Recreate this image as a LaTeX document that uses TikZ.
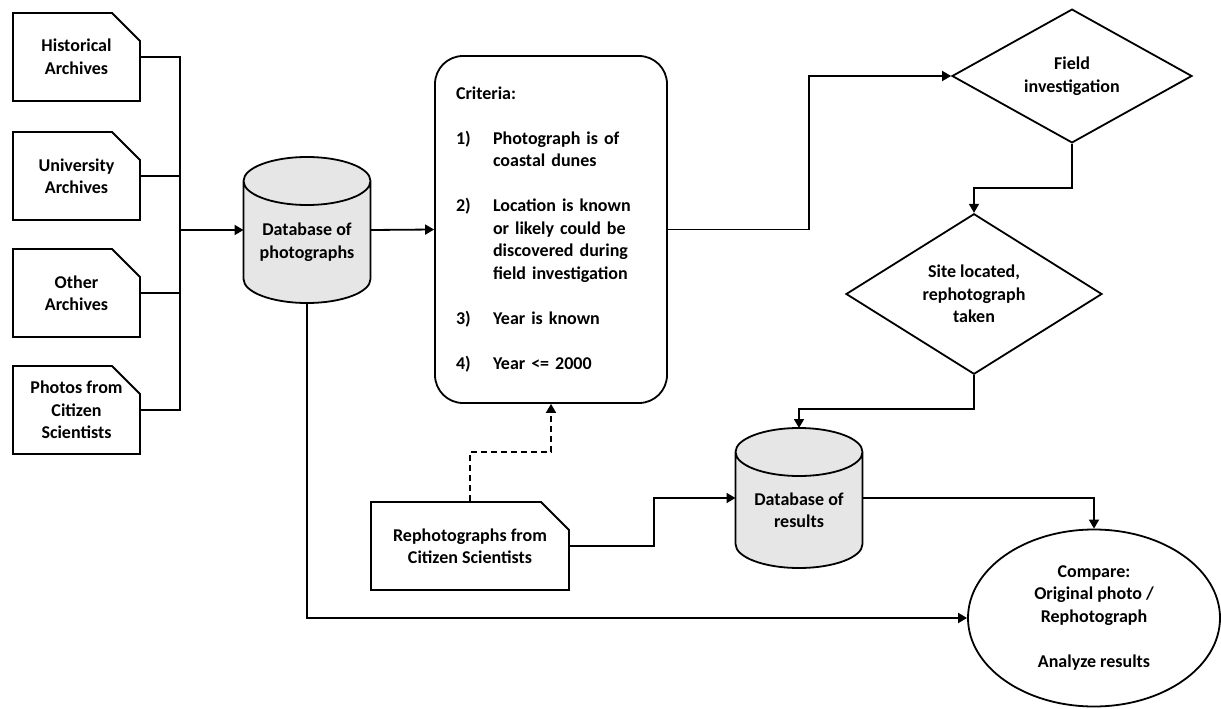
\documentclass[tikz,border=0pt]{standalone}
\usepackage{fontspec}
\setmainfont{Carlito}
\usetikzlibrary{positioning, shapes.geometric, shapes.misc, arrows.meta}
\definecolor{dbgray}{HTML}{E6E6E6}

\begin{document}
\begin{tikzpicture}[x=1pt, y=-1pt, line width=1.8pt,
        every node/.style={font=\fontsize{18}{22.5}\selectfont\bfseries},
        archive/.style={chamfered rectangle, chamfered rectangle corners=north east, chamfered rectangle xsep=14pt, chamfered rectangle ysep=14pt, draw, minimum width=127pt, minimum height=88pt, inner sep=0pt, align=center},
        database/.style={rectangle, minimum width=131pt, minimum height=#1, inner sep=0pt, outer sep=-2pt,
            path picture={
                \draw[fill=dbgray] ([shift={(2pt,-26pt)}]path picture bounding box.north west)
                    -- ([shift={(2pt,26pt)}]path picture bounding box.south west)
                    arc[start angle=180, end angle=360, x radius=63.5pt, y radius=24pt]
                    -- ([shift={(-2pt,-26pt)}]path picture bounding box.north east)
                    arc[start angle=0, end angle=180, x radius=63.5pt, y radius=24pt] -- cycle
                    ([shift={(2pt,-26pt)}]path picture bounding box.north west)
                    arc[start angle=180, end angle=360, x radius=63.5pt, y radius=24pt];
            }},
        dblabel/.style={align=center, yshift=-12pt},
        decision/.style={diamond, draw, inner sep=0pt, align=center},
        flow/.style={-{Triangle[length=9pt,width=10pt]}},
    ]
        \useasboundingbox (0,0) rectangle (1221,709);

        % Sources
        \node[archive] (hist) at (76.5, 57) {Historical\\Archives};
        \node[archive] (univ) at (76.5, 176) {University\\Archives};
        \node[archive] (other) at (76.5, 293) {Other\\Archives};
        \node[archive] (citphotos) at (76.5, 410) {Photos from\\Citizen\\Scientists};
        \node[archive, minimum width=198pt] (rephoto) at (470, 546) {Rephotographs from\\Citizen Scientists};

        % Databases
        \node[database=150pt, label={[dblabel]center:Database of\\photographs}] (dbphoto) at (307, 230) {};
        \node[database=144pt, label={[dblabel]center:Database of\\results}] (dbres) at (799, 498) {};

        % Criteria
        \node[rectangle, draw, rounded corners=28pt, minimum width=232pt, minimum height=347pt, text width=190pt, inner xsep=21pt, align=left] (criteria) at (551, 229.5) {%
            \begin{tabular}{@{}p{37pt}@{}l@{}}
                \multicolumn{2}{@{}l@{}}{Criteria:}\\
                & \\
                1) & Photograph is of\\
                & coastal dunes\\
                & \\
                2) & Location is known\\
                & or likely could be\\
                & discovered during\\
                & field investigation\\
                & \\
                3) & Year is known\\
                & \\
                4) & Year <= 2000
            \end{tabular}};

        % Field work
        \node[decision, minimum width=240pt, minimum height=130pt] (field) at (1072, 76) {Field\\investigation};
        \node[decision, minimum width=256pt, minimum height=130pt] (site) at (974, 294) {Site located,\\rephotograph\\taken};
        \node[ellipse, draw, minimum width=252pt, minimum height=177pt, inner sep=0pt, align=center] (compare) at (1094, 618) {Compare:\\Original photo /\\Rephotograph\\[22.5pt]Analyze results};

        % Connections
        \coordinate (bus) at (180, 230);
        \draw (hist.east) -| (bus);
        \draw (citphotos.east) -| (bus);
        \draw (univ.east) -- (univ.east -| bus);
        \draw (other.east) -- (other.east -| bus);
        \draw[flow] (bus) -- (dbphoto.west);
        \draw[flow] (dbphoto.east) -- (criteria.west);
        \draw[flow] (criteria.east) -- ++(141,0) |- (field.west);
        \draw[flow] (field.south) -- ++(0,44) -| (site.north);
        \draw[flow] (site.south) -- ++(0,34) -| (dbres.north);
        \draw[flow, dash pattern=on 6pt off 4pt] (rephoto.north) -- ++(0,-49) -| (criteria.south);
        \draw[flow] (rephoto.east) -- ++(84,0) |- (dbres.west);
        \draw[flow] (dbres.east) -| (compare.north);
        \draw[flow] (dbphoto.south) |- (compare.west);
    \end{tikzpicture}
\end{document}
